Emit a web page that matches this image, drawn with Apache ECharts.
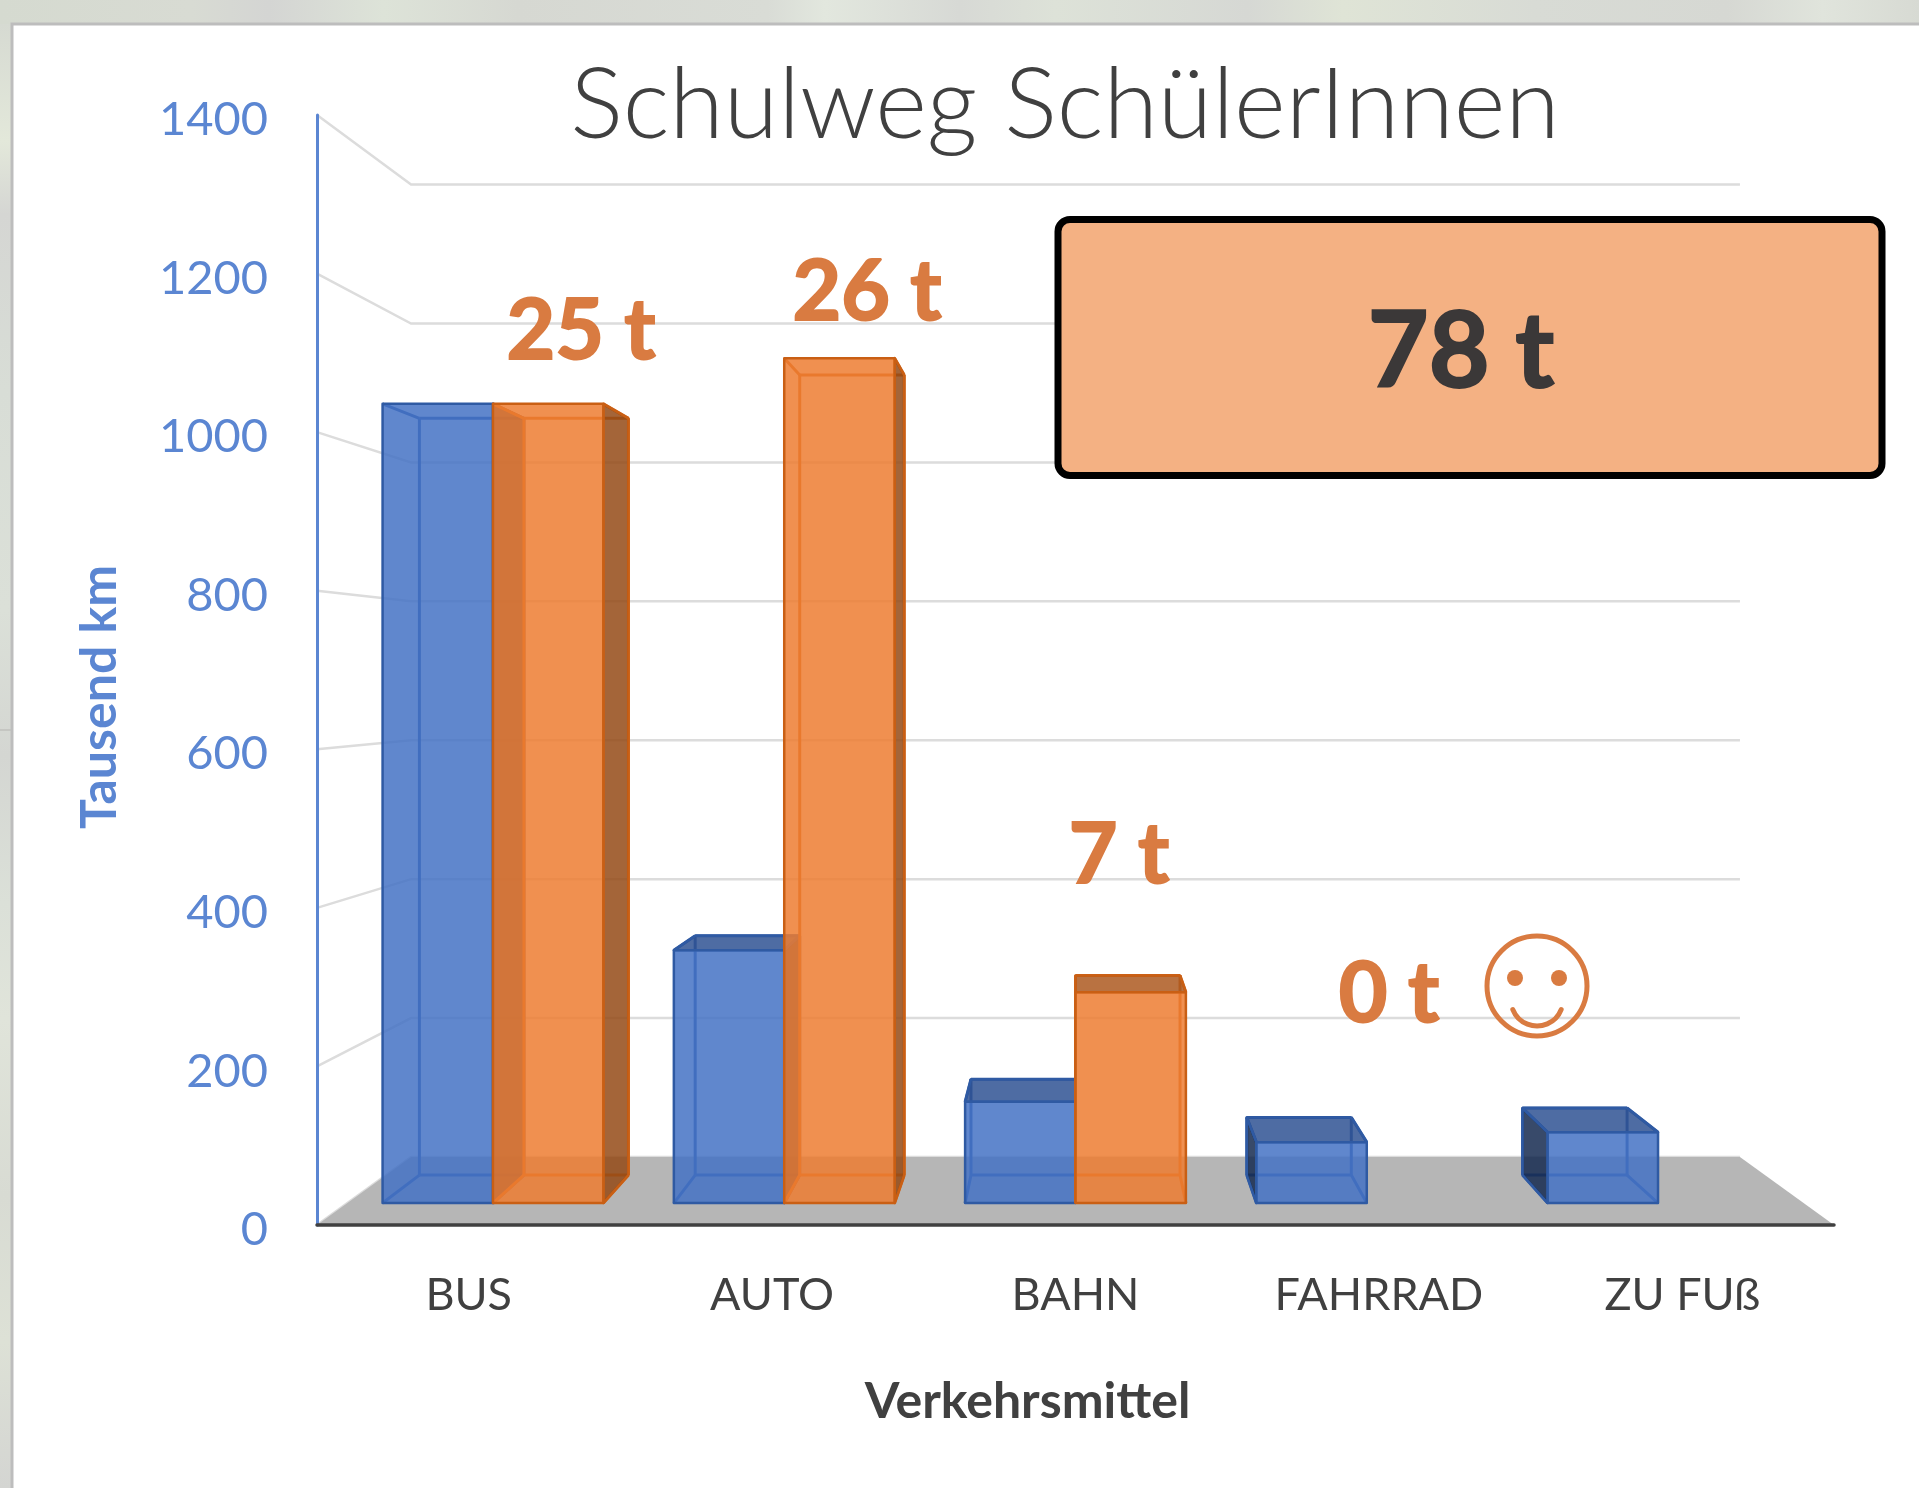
<!DOCTYPE html>
<html><head><meta charset="utf-8">
<style>html,body{margin:0;padding:0;background:#d7dad3}#c{width:1919px;height:1488px}</style>
<script src="https://cdn.jsdelivr.net/npm/echarts@6/dist/echarts.min.js"></script>
</head><body><div id="c"></div>
<script>
const categories = ['BUS','AUTO','BAHN','FAHRRAD','ZU FUß'];
const kmStudents = [1050,332,133,80,93];
const kmOrange = [1050,1110,277,0,0];
const yTicks = [0,200,400,600,800,1000,1200,1400];
const yMax = 1400;
const tonnes = ['25 t','26 t','7 t','0 t'];
const totalTonnes = '78 t';

const FONT = 'Lato';
const VP_VALUE = 692, VP_CAT = 2;
const S_WALL = 0.876, S_FRONT = 0.96, S_BACK = 0.909;
const BAR_FRAC = 0.379;
const C_TXT = '#d97b41';

function projector(api){
  const vp = api.coord([VP_CAT, VP_VALUE]);
  return (p,s)=>[vp[0]+s*(p[0]-vp[0]), vp[1]+s*(p[1]-vp[1])];
}
function poly(points, fill, stroke, z, lw){
  return {type:'polygon', z2:z, shape:{points}, style:{fill, stroke, lineWidth:lw===undefined?2.5:lw, lineJoin:'round'}, silent:true};
}
function wallRender(params, api){
  const cs = params.coordSys, v = api.value(0), P = projector(api);
  const y = api.coord([0,v])[1];
  const a=[cs.x,y], b=P(a,S_WALL), c=P([cs.x+cs.width,y],S_WALL);
  return {type:'polyline', shape:{points:[a,b,c]}, style:{fill:null, stroke:'#dcdcdc', lineWidth:2.5}, silent:true};
}
function floorRender(params, api){
  const cs = params.coordSys, P = projector(api);
  const y = api.coord([0,0])[1];
  const a=[cs.x,y], d=[cs.x+cs.width,y];
  return poly([a,P(a,S_WALL),P(d,S_WALL),d],'#b6b6b6','none',1,0);
}
function boxRender(offsetSign, st){
  return function(params, api){
    const idx = api.value(0), val = api.value(1);
    if(!val) return null;
    const P = projector(api);
    const band = api.size([1,0])[0], w = band*BAR_FRAC;
    const cx = api.coord([idx,0])[0], y0 = api.coord([idx,0])[1], y1 = api.coord([idx,val])[1];
    const xL = offsetSign<0 ? cx-w : cx, xR = xL+w;
    const vp = api.coord([VP_CAT,VP_VALUE]);
    const f=(x,y)=>P([x,y],S_FRONT), k=(x,y)=>P([x,y],S_BACK);
    const fbl=f(xL,y0), fbr=f(xR,y0), ftl=f(xL,y1), ftr=f(xR,y1);
    const bbl=k(xL,y0), bbr=k(xR,y0), btl=k(xL,y1), btr=k(xR,y1);
    const ch=[];
    const edge=(a,b)=>({type:'line',z2:1,shape:{x1:a[0],y1:a[1],x2:b[0],y2:b[1]},style:{stroke:st.inner,lineWidth:3},silent:true});
    ch.push(edge(bbl,bbr),edge(bbl,btl),edge(bbr,btr),edge(btl,btr));
    ch.push(edge(fbl,bbl),edge(fbr,bbr),edge(ftl,btl),edge(ftr,btr));
    if(xR < vp[0]-0.5) ch.push(poly([fbr,bbr,btr,ftr],st.right,st.edge,2));
    if(xL > vp[0]+0.5) ch.push(poly([fbl,bbl,btl,ftl],st.left,st.edge,2));
    if(y1 > vp[1]) ch.push(poly([ftl,ftr,btr,btl],st.top,st.edge,2));
    ch.push(poly([fbl,fbr,ftr,ftl],st.front,st.edge,3));
    return {type:'group',children:ch};
  };
}
const blueStyle = {front:'rgba(68,114,196,0.85)',top:'rgba(47,82,147,0.85)',right:'rgba(21,42,80,0.85)',left:'rgba(21,42,80,0.85)',edge:'#2f5aa3',inner:'#2f5aa3'};
const orangeStyle = {front:'rgba(237,125,49,0.85)',top:'rgba(173,89,32,0.85)',right:'rgba(148,74,22,0.85)',left:'rgba(148,74,22,0.85)',edge:'#c95f14',inner:'#d0641a'};

function tonText(t,cx,cy){
  return {type:'text',z:100,x:cx,y:cy,style:{text:t,fill:C_TXT,stroke:C_TXT,lineWidth:2,font:'bold 84px '+FONT,align:'center',verticalAlign:'middle'},silent:true};
}
function strip(x,y,w,h,horizontal,stops){
  return {type:'rect',z:-20,shape:{x,y,width:w,height:h},silent:true,
    style:{fill:{type:'linear',x:0,y:0,x2:horizontal?1:0,y2:horizontal?0:1,
      colorStops:stops.map(s=>({offset:s[0],color:s[1]}))}}};
}
const chart = echarts.init(document.getElementById('c'),null,{renderer:'canvas'});
chart.setOption({
  animation:false,
  backgroundColor:'#d7dad3',
  title:{text:'Schulweg SchülerInnen',left:1060,top:52,textAlign:'center',
    textStyle:{fontFamily:FONT,fontWeight:300,fontSize:99,color:'#404040'}},
  grid:{left:317,right:85,top:115,bottom:263,containLabel:false},
  xAxis:{type:'category',data:categories,z:5,
    axisLine:{lineStyle:{color:'#404040',width:3.5}},axisTick:{show:false},
    axisLabel:{color:'#404040',fontFamily:FONT,fontSize:45,margin:48},
    name:'Verkehrsmittel',nameLocation:'middle',nameGap:152,
    nameTextStyle:{color:'#404040',fontFamily:FONT,fontWeight:'bold',fontSize:50,padding:[0,96,0,0]}},
  yAxis:{type:'value',min:0,max:yMax,interval:200,z:5,
    axisLine:{show:true,lineStyle:{color:'#5b86d2',width:3}},axisTick:{show:false},splitLine:{show:false},
    axisLabel:{color:'#5b86d2',fontFamily:FONT,fontSize:47,margin:49,verticalAlign:'top',lineHeight:10,formatter:v=>String(v)},
    name:'Tausend km',nameLocation:'middle',nameRotate:90,nameGap:192,
    nameTextStyle:{color:'#5b86d2',fontFamily:FONT,fontWeight:'bold',fontSize:50,padding:[0,54,0,0]}},
  graphic:{elements:[
    strip(0,0,1919,24,true,[[0,'#d5dad0'],[0.1,'#d8dbd3'],[0.14,'#d4d5d3'],[0.2,'#dde3d8'],[0.27,'#d6d8d2'],[0.4,'#d9dcd6'],[0.43,'#e2e7de'],[0.5,'#d7d9d5'],[0.55,'#dde2d8'],[0.65,'#d6d8d4'],[0.7,'#dfe4d6'],[0.8,'#d8dbd5'],[0.9,'#d6d8d3'],[0.95,'#e0e4dc'],[1,'#d7dad3']]),
    strip(0,24,12,1464,false,[[0,'#d6dad2'],[0.08,'#e3e8da'],[0.13,'#d5d6d3'],[0.25,'#d8ddd6'],[0.4,'#dbe0d8'],[0.5,'#d4d6d2'],[0.6,'#dbe0d8'],[0.68,'#e0e4da'],[0.8,'#d8dbd3'],[0.9,'#dde1d6'],[1,'#d4d5d2']]),
    {type:'line',z:-15,shape:{x1:0,y1:730,x2:12,y2:730},style:{stroke:'#bfc1bc',lineWidth:1.5},silent:true},
    {type:'rect',z:-10,shape:{x:12,y:24,width:1930,height:1490},style:{fill:'#ffffff',stroke:'#bdbdbd',lineWidth:3},silent:true},
    tonText(tonnes[0],581,332),tonText(tonnes[1],867,293),tonText(tonnes[2],1119,856),tonText(tonnes[3],1389,995),
    {type:'rect',z:100,shape:{x:1058,y:219.5,width:824,height:256,r:12},style:{fill:'#f4b183',stroke:'#000000',lineWidth:7},silent:true},
    {type:'text',z:101,x:1461,y:353,style:{text:totalTonnes,fill:'#3b3838',stroke:'#3b3838',lineWidth:2,font:'bold 105px '+FONT,align:'center',verticalAlign:'middle'},silent:true},
    {type:'circle',z:100,shape:{cx:1537,cy:986,r:50},style:{fill:'none',stroke:C_TXT,lineWidth:5},silent:true},
    {type:'circle',z:100,shape:{cx:1515,cy:978,r:8},style:{fill:C_TXT},silent:true},
    {type:'circle',z:100,shape:{cx:1559,cy:978,r:8},style:{fill:C_TXT},silent:true},
    {type:'arc',z:100,shape:{cx:1537,cy:1000,r:26,startAngle:Math.PI*0.12,endAngle:Math.PI*0.88},style:{fill:'none',stroke:C_TXT,lineWidth:5,lineCap:'round'},silent:true}
  ]},
  series:[
    {type:'custom',name:'grid',z:1,silent:true,renderItem:wallRender,data:yTicks.map(v=>[v]),encode:{y:0}},
    {type:'custom',name:'floor',z:1,silent:true,renderItem:floorRender,data:[[0]],encode:{y:0}},
    {type:'custom',name:'Tausend km A',z:3,renderItem:boxRender(-1,blueStyle),data:kmStudents.map((v,i)=>[i,v]),encode:{x:0,y:1}},
    {type:'custom',name:'Tausend km B',z:4,renderItem:boxRender(1,orangeStyle),data:kmOrange.map((v,i)=>[i,v]),encode:{x:0,y:1}}
  ]
});
</script></body></html>
